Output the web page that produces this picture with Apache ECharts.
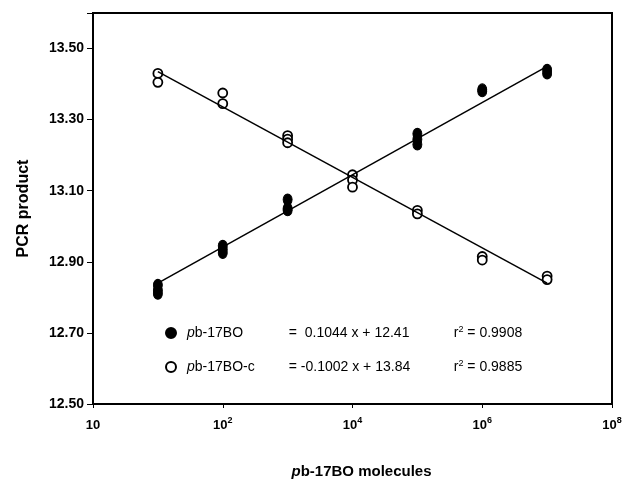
<!DOCTYPE html>
<html lang="en">
<head>
    <meta charset="UTF-8">
    <title>PCR product vs pb-17BO molecules</title>
    <script src="https://cdn.jsdelivr.net/npm/echarts@6/dist/echarts.min.js"></script>
    <style>
        html, body { margin: 0; padding: 0; background: #fff; }
        #chart { width: 628px; height: 493px; }
    </style>
</head>
<body>
<div id="chart"></div>
<script>
    // data
    const filledX = [10, 10, 10, 100, 100, 100, 1e3, 1e3, 1e3, 1e5, 1e5, 1e5, 1e6, 1e6, 1e7, 1e7];
    const filledY = [12.835, 12.82, 12.81, 12.945, 12.935, 12.925, 13.075, 13.05, 13.045, 13.26, 13.245, 13.23, 13.385, 13.38, 13.44, 13.43];
    const openX = [10, 10, 100, 100, 1e3, 1e3, 1e3, 1e4, 1e4, 1e4, 1e5, 1e5, 1e6, 1e6, 1e7, 1e7];
    const openY = [13.43, 13.405, 13.375, 13.345, 13.255, 13.245, 13.235, 13.145, 13.13, 13.11, 13.045, 13.035, 12.915, 12.905, 12.86, 12.85];

    // fitted lines (ends)
    const fitX = [10, 1e7];
    const fitFilledY = [12.84, 13.45];
    const fitOpenY = [13.435, 12.84];

    const seriesNames = ['pb-17BO', 'pb-17BO-c'];
    const equations = ['=  0.1044 x + 12.41', '= -0.1002 x + 13.84'];
    const rSquared = ['0.9908', '0.9885'];

    const yTickLabels = ['12.50', '12.70', '12.90', '13.10', '13.30', '13.50'];
    const xTickBase = '10';
    const xTickExp = ['', '2', '4', '6', '8'];

    const font = '"Liberation Sans", Arial, sans-serif';

    function pairs(xs, ys) {
        return xs.map(function (x, i) { return [x, ys[i]]; });
    }

    let myChart = echarts.init(document.getElementById('chart'));

    let option = {
        animation: false,
        backgroundColor: '#fff',
        textStyle: {fontFamily: font, color: '#000'},
        grid: {
            left: 93, right: 16, top: 13, bottom: 89,
            show: true, borderColor: '#000', borderWidth: 2, backgroundColor: 'transparent'
        },
        legend: {
            orient: 'vertical',
            left: 160,
            top: 320,
            itemWidth: 10,
            itemHeight: 10,
            itemGap: 19,
            data: seriesNames,
            selectedMode: false,
            formatter: function (name) {
                let i = seriesNames.indexOf(name);
                return '{p|p}{nm|' + name.slice(1) + '}{eq|' + equations[i] + '}{r|r}{sup|2}{rv| = ' + rSquared[i] + '}';
            },
            textStyle: {
                fontFamily: font,
                fontSize: 14,
                color: '#000',
                rich: {
                    p: {fontFamily: font, fontSize: 14, fontStyle: 'italic', padding: [0, 0, 0, 6], lineHeight: 16},
                    nm: {fontFamily: font, fontSize: 14, width: 94, lineHeight: 16},
                    eq: {fontFamily: font, fontSize: 14, width: 165, lineHeight: 16},
                    r: {fontFamily: font, fontSize: 14, lineHeight: 16},
                    sup: {fontFamily: font, fontSize: 9, verticalAlign: 'top'},
                    rv: {fontFamily: font, fontSize: 14, lineHeight: 16}
                }
            }
        },
        xAxis: {
            type: 'log',
            logBase: 10,
            min: 1,
            max: 1e8,
            interval: 2,
            name: '{p|p}{t|b-17BO molecules}',
            nameLocation: 'middle',
            nameGap: 60,
            nameTextStyle: {
                padding: [0, 0, 0, 18],
                rich: {
                    p: {fontFamily: font, fontSize: 15, fontWeight: 'bold', fontStyle: 'italic'},
                    t: {fontFamily: font, fontSize: 15, fontWeight: 'bold'}
                }
            },
            axisLine: {show: true, lineStyle: {color: '#000', width: 2}},
            axisTick: {show: true, length: 4, lineStyle: {color: '#000', width: 1}},
            splitLine: {show: false},
            axisLabel: {
                margin: 12,
                formatter: function (v) {
                    let e = Math.round(Math.log10(v));
                    let k = e / 2;
                    if (e % 2 !== 0 || k < 0 || k >= xTickExp.length) return '';
                    return '{b|' + xTickBase + '}' + (xTickExp[k] ? '{s|' + xTickExp[k] + '}' : '');
                },
                rich: {
                    b: {fontFamily: font, fontSize: 13, fontWeight: 'bold', color: '#000', lineHeight: 19},
                    s: {fontFamily: font, fontSize: 9, fontWeight: 'bold', color: '#000', verticalAlign: 'top'}
                }
            }
        },
        yAxis: {
            type: 'value',
            min: 12.5,
            max: 13.6,
            interval: 0.2,
            name: 'PCR product',
            nameLocation: 'middle',
            nameRotate: 90,
            nameGap: 61,
            nameTextStyle: {fontFamily: font, fontSize: 16, fontWeight: 'bold', color: '#000'},
            axisLine: {show: true, lineStyle: {color: '#000', width: 2}},
            axisTick: {show: true, length: 6, lineStyle: {color: '#000', width: 1}},
            splitLine: {show: false},
            axisLabel: {
                margin: 9,
                fontFamily: font,
                fontSize: 14,
                fontWeight: 'bold',
                color: '#000',
                formatter: function (v) {
                    let s = v.toFixed(2);
                    return yTickLabels.indexOf(s) >= 0 ? s : '';
                }
            }
        },
        series: [
            {
                name: seriesNames[0],
                type: 'scatter',
                symbol: 'circle',
                symbolSize: [9, 11],
                itemStyle: {color: '#000', borderColor: '#000', borderWidth: 1, opacity: 1},
                data: pairs(filledX, filledY),
                z: 3
            },
            {
                name: seriesNames[1],
                type: 'scatter',
                symbol: 'circle',
                symbolSize: [9, 9],
                itemStyle: {color: '#fff', borderColor: '#000', borderWidth: 1.8, opacity: 1},
                data: pairs(openX, openY),
                z: 3
            },
            {
                name: 'fit1',
                type: 'line',
                symbol: 'none',
                lineStyle: {color: '#000', width: 1.5},
                data: pairs(fitX, fitFilledY),
                z: 4
            },
            {
                name: 'fit2',
                type: 'line',
                symbol: 'none',
                lineStyle: {color: '#000', width: 1.5},
                data: pairs(fitX, fitOpenY),
                z: 4
            }
        ]
    };

    myChart.setOption(option);
</script>
</body>
</html>
